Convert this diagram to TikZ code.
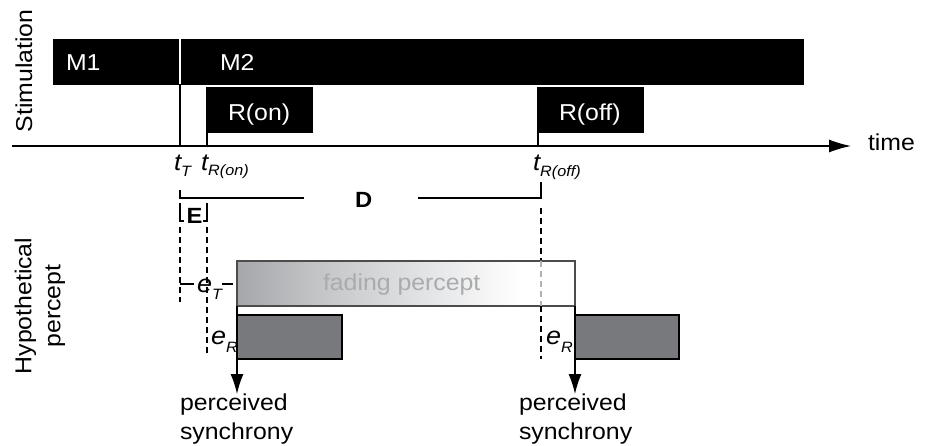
\documentclass[tikz,border=0pt]{standalone}
\usepackage{fontspec}
\setmainfont{Liberation Sans}[FakeStretch=1.08]
\usetikzlibrary{arrows.meta}
\definecolor{fadeTxt}{RGB}{170,171,173}
\definecolor{darkbox}{RGB}{120,121,124}
\pgfdeclarehorizontalshading{fadeshade}{100bp}{%
  rgb(0bp)=(0.647,0.655,0.671); rgb(25bp)=(0.647,0.655,0.671);
  rgb(38bp)=(0.773,0.780,0.788); rgb(50bp)=(0.867,0.871,0.878);
  rgb(67bp)=(1,1,1); rgb(100bp)=(1,1,1)}
\newcommand\lsub[2]{\raisebox{-#1pt}{\fontsize{15}{15}\selectfont\itshape #2}}
\begin{document}
\begin{tikzpicture}[x=1pt,y=-1pt,line width=1.3pt,
  txt/.style={font=\fontsize{23}{29}\selectfont, inner sep=0pt, outer sep=0pt},
  wtxt/.style={txt, text=white},
  blk/.style={fill=black, draw=black, anchor=north west, inner sep=0pt, outer sep=0pt},
  dbox/.style={fill=darkbox, draw=black, anchor=north west, inner sep=0pt, outer sep=0pt, minimum height=44pt},
  bigarr/.style={-{Latex[length=22pt,width=13pt]}},
  synarr/.style={-{Latex[length=20pt,width=13pt]}},
  dsh/.style={dash pattern=on 6pt off 4pt, line width=1.1pt}]
\useasboundingbox (0,0) rectangle (925,446);
% side labels
\node[txt, font=\fontsize{23}{28}\selectfont, rotate=90] (stim) at (24,71) {Stimulation};
\node[txt, font=\fontsize{23}{29}\selectfont, rotate=90, align=center] (hyp) at (40,306) {Hypothetical\\percept};
% stimulation boxes
\node[blk, minimum width=124pt, minimum height=44pt] (m1) at (54,40) {};
\node[blk, minimum width=621pt, minimum height=44pt] (m2) at (182,40) {};
\node[blk, minimum width=105pt, minimum height=44pt] (ron) at (207,88) {};
\node[blk, minimum width=105pt, minimum height=44pt] (roff) at (538,88) {};
\node[wtxt, anchor=base west] (m1t) at (66,71) {M1};
\node[wtxt, anchor=base west] (m2t) at (220,71) {M2};
\node[wtxt, anchor=base west] (ront) at (228,120.5) {R(on)};
\node[wtxt, anchor=base west] (rofft) at (559,120.5) {R(off)};
% time axis
\coordinate (ax0) at (12,146);
\coordinate (ax1) at (851,146);
\draw[bigarr] (ax0) -- (ax1);
\node[txt, anchor=base west] (time) at (868,151) {time};
\coordinate (tT) at (180,146);
\coordinate (tTtop) at (180,84);
\draw (tTtop) -- (tT);
\draw (ron.south west) -- (ron.south west |- ax0);
\draw (roff.south west) -- (roff.south west |- ax0);
\node[txt, font=\fontsize{24}{29}\selectfont, anchor=base west] (lT) at (174,171) {\itshape t\lsub{6}{T}};
\node[txt, font=\fontsize{24}{29}\selectfont, anchor=base west] (lRon) at (201,171) {\itshape t\lsub{5}{R(on)}};
\node[txt, font=\fontsize{24}{29}\selectfont, anchor=base west] (lRoff) at (533,171) {\itshape t\lsub{6}{R(off)}};
% D bracket
\coordinate (d1) at (180,190);
\coordinate (d2) at (180,198);
\coordinate (d3) at (304,198);
\coordinate (d4) at (418,198);
\coordinate (d5) at (541,198);
\coordinate (d6) at (541,182);
\draw (d1) -- (d2) -- (d3);
\draw (d4) -- (d5) -- (d6);
\node[txt, font=\fontsize{22}{26}\selectfont\bfseries, anchor=base west] (D) at (355,207.5) {D};
% E bracket
\coordinate (e1) at (180,203);
\coordinate (e2) at (180,221);
\coordinate (e3) at (184,221);
\coordinate (e4) at (207,203);
\coordinate (e5) at (207,221);
\coordinate (e6) at (203,221);
\draw[line width=1.1pt] (e1) -- (e2) -- (e3);
\draw[line width=1.1pt] (e4) -- (e5) -- (e6);
\node[txt, font=\fontsize{22}{26}\selectfont\bfseries, anchor=base west] (E) at (186.5,224) {E};
% dashed guides
\coordinate (g1) at (180,227);
\coordinate (g2) at (180,302);
\coordinate (g3) at (207,227);
\coordinate (g4) at (207,356);
\coordinate (g5) at (541,208);
\coordinate (g6) at (541,261);
\coordinate (g7) at (541,306);
\coordinate (g8) at (541,359);
\draw[dsh] (g1) -- (g2);
\draw[dsh] (g3) -- (g4);
\draw[dsh] (g5) -- (g6);
% percept boxes
\node[anchor=north west, inner sep=0pt, outer sep=0pt, minimum width=338pt, minimum height=45pt,
      shading=fadeshade, draw=black!70] (fade) at (237,261) {};
\draw[dsh, draw=black!30] (g6) -- (g7);
\draw[dsh] (g7) -- (g8);
\node[txt, text=fadeTxt, anchor=base west] (fadet) at (323,290) {fading percept};
\node[dbox, minimum width=105pt] (dk1) at (237,315) {};
\node[dbox, minimum width=104pt] (dk2) at (575,315) {};
% e labels
\node[txt, font=\fontsize{25}{26}\selectfont, anchor=base west] (eT) at (197,292) {\itshape e\lsub{7}{T}};
\coordinate (eTl0) at (180,284);
\coordinate (eTl1) at (194,284);
\coordinate (eTr0) at (222,284);
\coordinate (eTr1) at (233,284);
\draw[line width=1.1pt] (eTl0) -- (eTl1);
\draw[line width=1.1pt] (eTr0) -- (eTr1);
\node[txt, font=\fontsize{25}{26}\selectfont, anchor=base west] (eR1) at (211,344) {\itshape e\lsub{8}{R}};
\node[txt, font=\fontsize{25}{26}\selectfont, anchor=base west] (eR2) at (546,344) {\itshape e\lsub{8}{R}};
% perceived synchrony
\node[txt, align=left, anchor=north west] (ps1) at (180,394) {perceived\\synchrony};
\node[txt, align=left, anchor=north west] (ps2) at (519,394) {perceived\\synchrony};
\draw[synarr] (fade.south west) -- (fade.south west |- ps1.north) ;
\draw[synarr] (fade.south east) -- (fade.south east |- ps2.north) ;
\end{tikzpicture}
\end{document}
